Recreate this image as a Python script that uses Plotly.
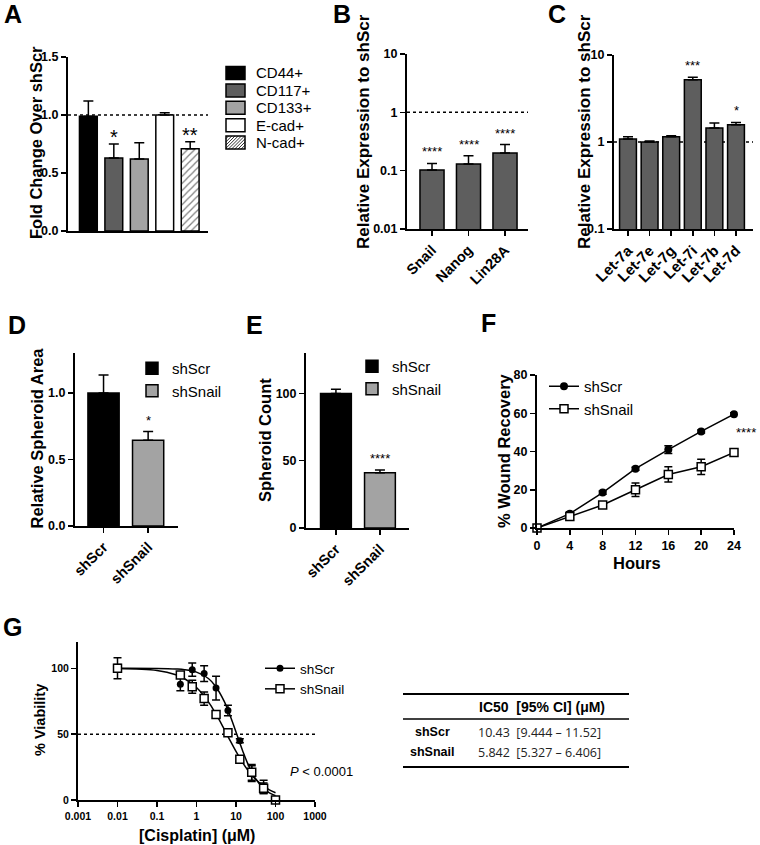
import math
import plotly.graph_objects as go

W, H = 760, 845
FONT = "Arial, 'Liberation Sans', sans-serif"

# ---------------- data ----------------
# Panel A
a_labels = ["CD44+", "CD117+", "CD133+", "E-cad+", "N-cad+"]
a_values = [0.99, 0.63, 0.62, 1.00, 0.71]
a_err = [0.13, 0.12, 0.14, 0.02, 0.06]
a_sig = ["", "*", "", "", "**"]
a_colors = ["#000000", "#5e5e5e", "#a3a3a3", "#ffffff", "#ffffff"]
a_patterns = ["", "", "", "", "/"]

# Panel B
b_labels = ["Snail", "Nanog", "Lin28A"]
b_values = [0.103, 0.13, 0.20]
b_upper = [0.133, 0.18, 0.28]
b_sig = ["****", "****", "****"]

# Panel C
c_labels = ["Let-7a", "Let-7e", "Let-7g", "Let-7i", "Let-7b", "Let-7d"]
c_values = [1.08, 1.00, 1.15, 5.2, 1.45, 1.58]
c_upper = [1.15, 1.03, 1.18, 5.55, 1.65, 1.68]
c_sig = ["", "", "", "***", "", "*"]

# Panels D / E
groups = ["shScr", "shSnail"]
group_colors = ["#000000", "#a3a3a3"]
d_values = [1.0, 0.645]
d_err = [0.135, 0.065]
d_sig = ["", "*"]
e_values = [100, 41]
e_err = [3, 2]
e_sig = ["", "****"]

# Panel F
f_hours = [0, 4, 8, 12, 16, 20, 24]
f_scr = [0, 7.5, 18.5, 31, 41, 50.5, 59.5]
f_scr_err = [0.5, 1, 0.8, 0.8, 2, 0.8, 0.8]
f_snail = [0, 6, 12, 20, 28, 32, 39.5]
f_snail_err = [0.5, 1, 1, 3.5, 4, 4, 2]
f_sig = "****"

# Panel G
g_conc = [0.01, 0.39, 0.78, 1.56, 3.125, 6.25, 12.5, 25, 50, 100]
g_scr = [100, 88, 99, 96, 85, 68, 45, 20, 10, 0.5]
g_scr_err = [8, 5, 5, 6, 9, 4, 1.5, 6, 5, 1]
g_snail = [100, 95, 86, 77, 65, 51, 31, 21, 9, 0]
g_snail_err = [3, 2, 5, 5, 2, 2, 2, 6, 4, 1]
g_curve_conc = [0.01, 0.1, 0.3, 0.5, 1, 2, 3, 5, 7, 10, 15, 20, 30, 50, 70, 100]
g_curve_scr = [100, 99.9, 99.5, 99, 97.1, 92.3, 86.6, 75.1, 64.5, 51.6, 36.7, 27.4, 17, 8.7, 5.4, 3.3]
g_curve_snail = [99.8, 98.3, 95.1, 92.1, 85.4, 74.5, 66.1, 53.9, 45.5, 36.9, 28, 22.6, 16.3, 10.5, 7.7, 5.5]
g_xticks = [0.001, 0.01, 0.1, 1, 10, 100, 1000]
g_xticktext = ["0.001", "0.01", "0.1", "1", "10", "100", "1000"]

# Table
t_header = "IC50\u00a0\u00a0[95% CI] (\u03bcM)"
t_rows = ["shScr", "shSnail"]
t_ic50 = ["10.43", "5.842"]
t_ci = ["[9.444 \u2013 11.52]", "[5.327 \u2013 6.406]"]


# ---------------- helpers ----------------
def xd(a, b):
    return [a / W, b / W]


def yd(top, bottom):
    return [1 - bottom / H, 1 - top / H]


def px(x):
    return x / W


def py(y):
    return 1 - y / H


def text_ann(text, x, y, size, bold=False, angle=0, xanchor="center", yanchor="middle",
             family=FONT, color="black"):
    return dict(x=px(x), y=py(y), xref="paper", yref="paper", text=text, textangle=angle,
                xanchor=xanchor, yanchor=yanchor, showarrow=False,
                font=dict(family=family, size=size, color=color,
                          weight="bold" if bold else "normal"))


tickfont = dict(family=FONT, size=12.5, color="black", weight="bold")
catfont = dict(family=FONT, size=14.5, color="black", weight="bold")
common = dict(showline=True, linewidth=2, linecolor="black", ticks="outside",
              ticklen=5, tickwidth=1.5, tickcolor="black", showgrid=False,
              zeroline=False, tickfont=tickfont, fixedrange=True, automargin=False)

fig = go.Figure()
ann = []
shapes = []

err_style = dict(color="black", thickness=1.5, width=5)

# ---------------- Panel A ----------------
for i, lab in enumerate(a_labels):
    fig.add_trace(go.Bar(
        x=[i], y=[a_values[i]], width=0.7, name=lab, showlegend=False,
        xaxis="x", yaxis="y",
        marker=dict(color=a_colors[i], line=dict(color="black", width=1.5),
                    pattern=dict(shape=a_patterns[i], fgcolor="black",
                                 bgcolor="white", size=5, solidity=0.25)),
        error_y=dict(type="data", array=[a_err[i]], arrayminus=[0],
                     symmetric=False, **err_style)))
    if a_sig[i]:
        ann.append(dict(x=i, y=a_values[i] + a_err[i], xref="x", yref="y",
                        text=a_sig[i], showarrow=False, xanchor="center", yanchor="bottom",
                        yshift=-6, font=dict(family=FONT, size=20, color="black")))

# legend of panel A (rows 17.4 px apart)
for i, lab in enumerate(a_labels):
    cy = 73 + 17.4 * i
    x0, x1, y0, y1 = 226, 245, cy - 6.5, cy + 6.5
    shapes.append(dict(type="rect", xref="paper", yref="paper",
                       x0=px(x0), x1=px(x1), y0=py(y1), y1=py(y0),
                       fillcolor=a_colors[i], line=dict(color="black", width=1.5)))
    if a_patterns[i] == "/":
        t = -(y1 - y0) + 2.5
        while t < (x1 - x0):
            sx, sy = x0 + t, y1
            ex, ey = x0 + t + (y1 - y0), y0
            if sx < x0:
                sy -= (x0 - sx)
                sx = x0
            if ex > x1:
                ey += (ex - x1)
                ex = x1
            shapes.append(dict(type="line", xref="paper", yref="paper",
                               x0=px(sx), y0=py(sy), x1=px(ex), y1=py(ey),
                               line=dict(color="black", width=0.8)))
            t += 3.2
    ann.append(text_ann(lab, 254, cy, 15, xanchor="left"))

shapes.append(dict(type="line", xref="x domain", yref="y", x0=0, x1=1, y0=1, y1=1,
                   line=dict(color="black", width=1.5, dash="dot"), layer="below"))

# ---------------- Panel B ----------------
fig.add_trace(go.Bar(
    x=list(range(len(b_labels))), y=b_values, width=0.66, showlegend=False,
    xaxis="x2", yaxis="y2",
    marker=dict(color="#5e5e5e", line=dict(color="black", width=1.5)),
    error_y=dict(type="data", array=[u - v for u, v in zip(b_upper, b_values)],
                 arrayminus=[0] * len(b_values), symmetric=False, **err_style)))
for i, s in enumerate(b_sig):
    ann.append(dict(x=i, y=math.log10(b_upper[i]), xref="x2", yref="y2", text=s,
                    showarrow=False, xanchor="center", yanchor="bottom", yshift=2,
                    font=dict(family=FONT, size=13, color="black")))
shapes.append(dict(type="line", xref="x2 domain", yref="y2", x0=0, x1=1, y0=1, y1=1,
                   line=dict(color="black", width=1.5, dash="dot"), layer="below"))

# ---------------- Panel C ----------------
fig.add_trace(go.Bar(
    x=list(range(len(c_labels))), y=c_values, width=0.78, showlegend=False,
    xaxis="x3", yaxis="y3",
    marker=dict(color="#5e5e5e", line=dict(color="black", width=1.5)),
    error_y=dict(type="data", array=[u - v for u, v in zip(c_upper, c_values)],
                 arrayminus=[0] * len(c_values), symmetric=False, **err_style)))
for i, s in enumerate(c_sig):
    if s:
        ann.append(dict(x=i, y=math.log10(c_upper[i]), xref="x3", yref="y3", text=s,
                        showarrow=False, xanchor="center", yanchor="bottom", yshift=2,
                        font=dict(family=FONT, size=13, color="black")))
shapes.append(dict(type="line", xref="x3 domain", yref="y3", x0=0, x1=1, y0=1, y1=1,
                   line=dict(color="black", width=1.5, dash="dot"), layer="below"))

# ---------------- Panels D, E ----------------
for vals, errs, sigs, xa, ya, lg in [(d_values, d_err, d_sig, "x4", "y4", "legend2"),
                                     (e_values, e_err, e_sig, "x5", "y5", "legend3")]:
    for i, g in enumerate(groups):
        fig.add_trace(go.Bar(
            x=[i], y=[vals[i]], width=0.7, name=g, legend=lg, xaxis=xa, yaxis=ya,
            marker=dict(color=group_colors[i], line=dict(color="black", width=1.5)),
            error_y=dict(type="data", array=[errs[i]], arrayminus=[0],
                         symmetric=False, **err_style)))
        if sigs[i]:
            ann.append(dict(x=i, y=vals[i] + errs[i], xref=xa, yref=ya, text=sigs[i],
                            showarrow=False, xanchor="center", yanchor="bottom", yshift=2,
                            font=dict(family=FONT, size=13, color="black")))

# ---------------- Panel F ----------------
fig.add_trace(go.Scatter(
    x=f_hours, y=f_scr, name="shScr", legend="legend4", xaxis="x6", yaxis="y6",
    mode="lines+markers", cliponaxis=False,
    line=dict(color="black", width=1.5),
    marker=dict(symbol="circle", size=8, color="black"),
    error_y=dict(type="data", array=f_scr_err, color="black", thickness=1.5, width=4)))
fig.add_trace(go.Scatter(
    x=f_hours, y=f_snail, name="shSnail", legend="legend4", xaxis="x6", yaxis="y6",
    mode="lines+markers", cliponaxis=False,
    line=dict(color="black", width=1.5),
    marker=dict(symbol="square", size=8, color="white", line=dict(color="black", width=1.5)),
    error_y=dict(type="data", array=f_snail_err, color="black", thickness=1.5, width=4)))
ann.append(dict(x=f_hours[-1], y=(f_scr[-1] + f_snail[-1]) / 2, xref="x6", yref="y6",
                text=f_sig, showarrow=False, xanchor="left", yanchor="bottom",
                xshift=0, yshift=-9, font=dict(family=FONT, size=13, color="black")))

# ---------------- Panel G ----------------
shapes.append(dict(type="line", xref="x7 domain", yref="y7", x0=0, x1=1, y0=50, y1=50,
                   line=dict(color="black", width=1.5, dash="dot"), layer="below"))
fig.add_trace(go.Scatter(x=g_curve_conc, y=g_curve_scr, mode="lines", line_shape="spline",
                         line=dict(color="black", width=1.5), showlegend=False,
                         xaxis="x7", yaxis="y7"))
fig.add_trace(go.Scatter(x=g_curve_conc, y=g_curve_snail, mode="lines", line_shape="spline",
                         line=dict(color="black", width=1.5), showlegend=False,
                         xaxis="x7", yaxis="y7"))
fig.add_trace(go.Scatter(
    x=g_conc, y=g_scr, mode="markers", showlegend=False, xaxis="x7", yaxis="y7",
    cliponaxis=False, marker=dict(symbol="circle", size=7, color="black"),
    error_y=dict(type="data", array=g_scr_err, color="black", thickness=1.5, width=4)))
fig.add_trace(go.Scatter(
    x=g_conc, y=g_snail, mode="markers", showlegend=False, xaxis="x7", yaxis="y7",
    cliponaxis=False,
    marker=dict(symbol="square", size=8, color="white", line=dict(color="black", width=1.5)),
    error_y=dict(type="data", array=g_snail_err, color="black", thickness=1.5, width=4)))
fig.add_trace(go.Scatter(x=[None], y=[None], name="shScr", legend="legend5",
                         mode="lines+markers", xaxis="x7", yaxis="y7",
                         line=dict(color="black", width=1.5),
                         marker=dict(symbol="circle", size=7, color="black")))
fig.add_trace(go.Scatter(x=[None], y=[None], name="shSnail", legend="legend5",
                         mode="lines+markers", xaxis="x7", yaxis="y7",
                         line=dict(color="black", width=1.5),
                         marker=dict(symbol="square", size=8, color="white",
                                     line=dict(color="black", width=1.5))))
ann.append(text_ann("<i>P</i> < 0.0001", 321, 771, 13))

# ---------------- Table ----------------
for yy, wdt in [(694, 2), (719, 1.5), (767, 2)]:
    shapes.append(dict(type="line", xref="paper", yref="paper", x0=px(403), x1=px(629),
                       y0=py(yy), y1=py(yy), line=dict(color="black", width=wdt)))
ann.append(text_ann(t_header, 542, 707, 14, bold=True))
for i, r in enumerate(t_rows):
    yy = 732 + 20 * i
    ann.append(text_ann(r, 432, yy, 12.5, bold=True))
    ann.append(text_ann(t_ic50[i] + "\u00a0\u00a0" + t_ci[i], 476, yy, 12.5,
                        xanchor="left", family="'Open Sans', " + FONT, color="#222222"))

# ---------------- Titles / panel letters ----------------
for letter, x, y in [("A", 2, 14), ("B", 331, 14), ("C", 546, 14), ("D", 6, 325),
                     ("E", 244, 325), ("F", 479, 323), ("G", 1, 627)]:
    ann.append(text_ann(letter, x, y, 25, bold=True, xanchor="left"))

for text, x, y, size, ang in [("Fold Change Over shScr", 36, 143, 16.5, -90),
                              ("Relative Expression to shScr", 363, 132, 17, -90),
                              ("Relative Expression to shScr", 584, 132, 17, -90),
                              ("Relative Spheroid Area", 36.5, 438, 16.5, -90),
                              ("Spheroid Count", 265, 440, 16.5, -90),
                              ("% Wound Recovery", 504, 450, 16.5, -90),
                              ("% Viability", 40, 720, 14.5, -90),
                              ("Hours", 637, 563, 16.5, 0),
                              ("[Cisplatin] (\u03bcM)", 197, 835, 16, 0)]:
    ann.append(text_ann(text, x, y, size, bold=True, angle=ang))

# ---------------- Layout ----------------
legend_common = dict(xanchor="left", yanchor="top", bgcolor="rgba(0,0,0,0)",
                     borderwidth=0, tracegroupgap=0, itemclick=False, itemdoubleclick=False)

fig.update_layout(
    width=W, height=H, autosize=False,
    margin=dict(l=0, r=0, t=0, b=0, autoexpand=False),
    paper_bgcolor="white", plot_bgcolor="rgba(0,0,0,0)", barmode="overlay",
    font=dict(family=FONT, color="black"),
    showlegend=True, hovermode=False,
    xaxis=dict(common, domain=xd(68, 208), range=[-0.8, 4.7], anchor="y",
               ticks="", showticklabels=False),
    yaxis=dict(common, domain=yd(57, 231), range=[0, 1.5], anchor="x",
               tickvals=[0, 0.5, 1.0, 1.5], tickformat=".1f"),
    xaxis2=dict(common, domain=xd(407, 528), range=[-0.685, 2.63], anchor="y2",
                tickvals=list(range(len(b_labels))), ticktext=b_labels, tickangle=-45,
                tickfont=catfont),
    yaxis2=dict(common, domain=yd(54, 229), type="log", range=[-2, 1], anchor="x2",
                tickvals=[0.01, 0.1, 1, 10], ticktext=["0.01", "0.1", "1", "10"]),
    xaxis3=dict(common, domain=xd(614, 753), range=[-0.648, 5.787], anchor="y3",
                tickvals=list(range(len(c_labels))), ticktext=c_labels, tickangle=-45,
                tickfont=dict(catfont, size=15)),
    yaxis3=dict(common, domain=yd(55, 229), type="log", range=[-1, 1], anchor="x3",
                tickvals=[0.1, 1, 10], ticktext=["0.1", "1", "10"]),
    xaxis4=dict(common, domain=xd(75, 178), range=[-0.64, 1.67], anchor="y4",
                tickvals=[0, 1], ticktext=groups, tickangle=-45, tickfont=catfont),
    yaxis4=dict(common, domain=yd(353, 526), range=[0, 1.3], anchor="x4",
                tickvals=[0, 0.5, 1.0], tickformat=".1f"),
    xaxis5=dict(common, domain=xd(306, 409), range=[-0.68, 1.66], anchor="y5",
                tickvals=[0, 1], ticktext=groups, tickangle=-45, tickfont=catfont),
    yaxis5=dict(common, domain=yd(353, 528), range=[0, 130], anchor="x5",
                tickvals=[0, 50, 100]),
    xaxis6=dict(common, domain=xd(537, 734), range=[0, 24], anchor="y6",
                tickvals=f_hours),
    yaxis6=dict(common, domain=yd(375, 528), range=[0, 80], anchor="x6",
                tickvals=[0, 20, 40, 60, 80]),
    xaxis7=dict(common, domain=xd(78, 315), type="log", range=[-3, 3], anchor="y7",
                tickvals=g_xticks, ticktext=g_xticktext,
                tickfont=dict(tickfont, size=10.5)),
    yaxis7=dict(common, domain=yd(642, 800), range=[0, 120], anchor="x7",
                tickvals=[0, 50, 100], tickfont=dict(tickfont, size=10.5)),
    legend2=dict(legend_common, x=px(132), y=py(352), font=dict(family=FONT, size=15)),
    legend3=dict(legend_common, x=px(352), y=py(350), font=dict(family=FONT, size=15)),
    legend4=dict(legend_common, x=px(544), y=py(370), font=dict(family=FONT, size=15)),
    legend5=dict(legend_common, x=px(260), y=py(653), font=dict(family=FONT, size=13.5)),
    annotations=ann,
    shapes=shapes,
)

fig.write_html("out.html", config={"displayModeBar": False, "staticPlot": True},
               post_script="document.body.style.margin='0';document.body.style.overflow='hidden';")
